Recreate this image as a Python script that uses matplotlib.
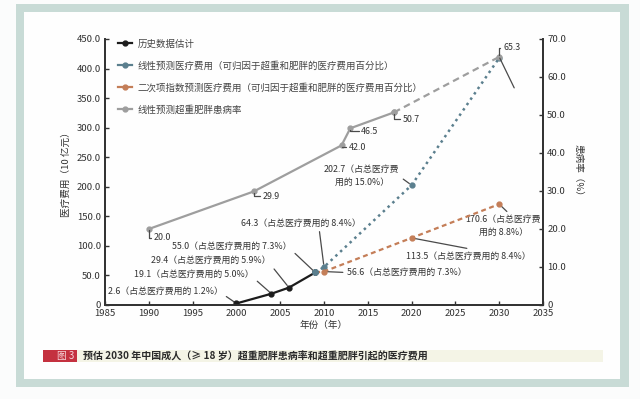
import matplotlib
matplotlib.use("Agg")
import matplotlib.pyplot as plt
from matplotlib.lines import Line2D
from matplotlib.patches import Rectangle

plt.rcParams['font.family'] = ['Noto Sans CJK SC', 'DejaVu Sans']

# historical estimate (10 亿元)
hist_years = [2000, 2004, 2006, 2009]
hist_cost = [2.6, 19.1, 29.4, 55.0]
hist_labels = ["2.6（占总医疗费用的 1.2%）", "19.1（占总医疗费用的 5.0%）",
               "29.4（占总医疗费用的 5.9%）", "55.0（占总医疗费用的 7.3%）"]

# linear projection of cost
lin_years = [2009, 2010, 2020, 2030]
lin_cost = [55.0, 64.3, 202.7, 418.0]

# quadratic projection of cost
quad_years = [2009, 2010, 2020, 2030]
quad_cost = [55.0, 56.6, 113.5, 170.6]

# prevalence (%)
prev_years = [1990, 2002, 2012, 2013, 2018]
prev_vals = [20.0, 29.9, 42.0, 46.5, 50.7]
prev_proj_years = [2018, 2030]
prev_proj_vals = [50.7, 65.3]

C_HIST = "#1c1c1c"
C_LIN = "#5b7f8e"
C_QUAD = "#c47e58"
C_PREV = "#9e9e9e"
C_LEAD = "#4a4a4a"

fig = plt.figure(figsize=(6.4, 3.99), dpi=100)
fig.patch.set_facecolor("#fbfcfc")

# frame
W, H = 640, 399
fig.patches.append(Rectangle((16 / W, 1 - 387 / H), (629 - 16) / W, (387 - 4) / H,
                             transform=fig.transFigure, facecolor="#c8dbd6",
                             edgecolor="none", zorder=-10))
fig.patches.append(Rectangle((24 / W, 1 - 379 / H), (620 - 24) / W, (379 - 12) / H,
                             transform=fig.transFigure, facecolor="#fefefe",
                             edgecolor="none", zorder=-9))
# caption band
fig.patches.append(Rectangle((77 / W, 1 - 362 / H), (603 - 77) / W, 12 / H,
                             transform=fig.transFigure, facecolor="#f4f4e6",
                             edgecolor="none", zorder=-8))
fig.patches.append(Rectangle((43 / W, 1 - 362 / H), (77 - 43) / W, 12 / H,
                             transform=fig.transFigure, facecolor="#c4313f",
                             edgecolor="none", zorder=-7))
fig.text(66 / W, 1 - 356 / H, "图 3", color="#f6d6da", fontsize=7,
         ha="center", va="center")
fig.text(83 / W, 1 - 356 / H,
         "预估 2030 年中国成人（≥ 18 岁）超重肥胖患病率和超重肥胖引起的医疗费用",
         color="#2a2a2a", fontsize=7.2, ha="left", va="center", weight="bold")

ax = fig.add_axes([105 / W, 1 - 305 / H, (543 - 105) / W, (305 - 39) / H])
ax.set_facecolor("none")
ax2 = ax.twinx()

ax.set_xlim(1985, 2035)
ax.set_ylim(0, 450)
ax2.set_ylim(0, 70)

for a in (ax, ax2):
    a.spines["top"].set_visible(False)
    for s in ("left", "right", "bottom"):
        a.spines[s].set_color("#333333")
        a.spines[s].set_linewidth(1.3)
    a.tick_params(direction="in", length=3, width=1, colors="#333333",
                  labelsize=6.9, pad=3)

ax.set_xticks(range(1985, 2036, 5))
ax.set_yticks(range(0, 451, 50))
ax.set_yticklabels(["0"] + [f"{v:.1f}" for v in range(50, 451, 50)])
ax2.set_yticks(range(0, 71, 10))
ax2.set_yticklabels(["0"] + [f"{v:.1f}" for v in range(10, 71, 10)])

ax.set_xlabel("年份（年）", fontsize=6.9, color="#333333", labelpad=2)
ax.set_ylabel("医疗费用（10 亿元）", fontsize=6.9, color="#333333", labelpad=4)
ax2.set_ylabel("患病率（%）", fontsize=6.9, color="#333333", rotation=270,
               labelpad=12)

# prevalence (right axis)
ax2.plot(prev_years, prev_vals, color=C_PREV, lw=1.6, marker="o", ms=3.5,
         zorder=3)
ax2.plot(prev_proj_years, prev_proj_vals, color=C_PREV, lw=1.6,
         linestyle=(0, (3, 2)), marker="o", ms=3.5, zorder=3)

# cost lines
ax.plot(lin_years, lin_cost, color=C_LIN, lw=1.8, linestyle=(0, (1, 1.6)),
        marker="o", ms=3.5, zorder=4)
ax.plot(quad_years, quad_cost, color=C_QUAD, lw=1.6, linestyle=(0, (2.2, 1.6)),
        marker="o", ms=3.5, zorder=4)
ax.plot(hist_years, hist_cost, color=C_HIST, lw=1.6, marker="o", ms=3.5, zorder=5)
ax.plot(hist_years[-1:], hist_cost[-1:], color=C_LIN, marker="o", ms=4, lw=0,
        zorder=6)

ann = dict(fontsize=6.4, color="#333333", textcoords="offset pixels")
lead = dict(arrowstyle="-", color=C_LEAD, lw=0.9, shrinkA=1, shrinkB=2)

# historical labels
hist_offsets = [(-14, 12), (-18, 19), (-18, 27), (-24, 26)]
for x, y, t, off in zip(hist_years, hist_cost, hist_labels, hist_offsets):
    ax.annotate(t, xy=(x, y), xytext=off, ha="right", va="center",
                arrowprops=dict(lead, relpos=(0.97, 0.5)), **ann)

# linear labels
ax.annotate("64.3（占总医疗费用的 8.4%）", xy=(lin_years[1], lin_cost[1]),
            xytext=(-23, 44), ha="center", va="center",
            arrowprops=dict(lead, relpos=(0.65, 0)), **ann)
ax.annotate("202.7（占总医疗费\n用的 15.0%）", xy=(lin_years[2], lin_cost[2]),
            xytext=(-50, 9), ha="center", va="center", linespacing=1.55,
            arrowprops=dict(lead, relpos=(0.95, 0.62)), **ann)

# quadratic labels
ax.annotate("56.6（占总医疗费用的 7.3%）", xy=(quad_years[1], quad_cost[1]),
            xytext=(23, -1), ha="left", va="center",
            arrowprops=dict(lead, relpos=(0, 0.5)), **ann)
ax.annotate("113.5（占总医疗费用的 8.4%）", xy=(quad_years[2], quad_cost[2]),
            xytext=(57, -18), ha="center", va="center",
            arrowprops=dict(lead, relpos=(0.5, 1.3)), **ann)
ax.annotate("170.6（占总医疗费\n用的 8.8%）", xy=(quad_years[3], quad_cost[3]),
            xytext=(4, -22), ha="center", va="center", linespacing=1.55,
            arrowprops=dict(lead, relpos=(0.6, 1.0)), **ann)

# prevalence labels
prev_all_years = prev_years + prev_proj_years[1:]
prev_all_vals = prev_vals + prev_proj_vals[1:]
prev_offsets = [(5, -9), (9, -5), (7, -2), (11, -3), (9, -7), (4, 9)]
hook = dict(arrowstyle="-", color=C_LEAD, lw=0.9, shrinkA=0, shrinkB=1,
            connectionstyle="angle,angleA=0,angleB=90,rad=0")
for x, y, off in zip(prev_all_years, prev_all_vals, prev_offsets):
    ax2.annotate(f"{y:.1f}", xy=(x, y), xytext=off, ha="left", va="center",
                 arrowprops=dict(hook, relpos=(0, 0.5)), **ann)
# stray leader below the 2030 point
ax2.annotate("", xy=(prev_proj_years[1], prev_proj_vals[1]), xytext=(15, -31),
             textcoords="offset pixels",
             arrowprops=dict(arrowstyle="-", color=C_LEAD, lw=0.9,
                             shrinkA=0, shrinkB=1))

# legend
handles = [
    Line2D([], [], color=C_HIST, lw=1.6, marker="o", ms=3.5),
    Line2D([], [], color=C_LIN, lw=1.6, marker="o", ms=3.5),
    Line2D([], [], color=C_QUAD, lw=1.6, marker="o", ms=3.5),
    Line2D([], [], color=C_PREV, lw=1.6, marker="o", ms=3.5),
]
labels = [
    "历史数据估计",
    "线性预测医疗费用（可归因于超重和肥胖的医疗费用百分比）",
    "二次项指数预测医疗费用（可归因于超重和肥胖的医疗费用百分比）",
    "线性预测超重肥胖患病率",
]
ax2.legend(handles, labels, loc="upper left", bbox_to_anchor=(0.01, 1.03),
           frameon=False, fontsize=6.8, labelspacing=1.3, handlelength=1.5,
           handletextpad=0.6, labelcolor="#444444")

fig.savefig("out.png", dpi=100, facecolor=fig.get_facecolor())
